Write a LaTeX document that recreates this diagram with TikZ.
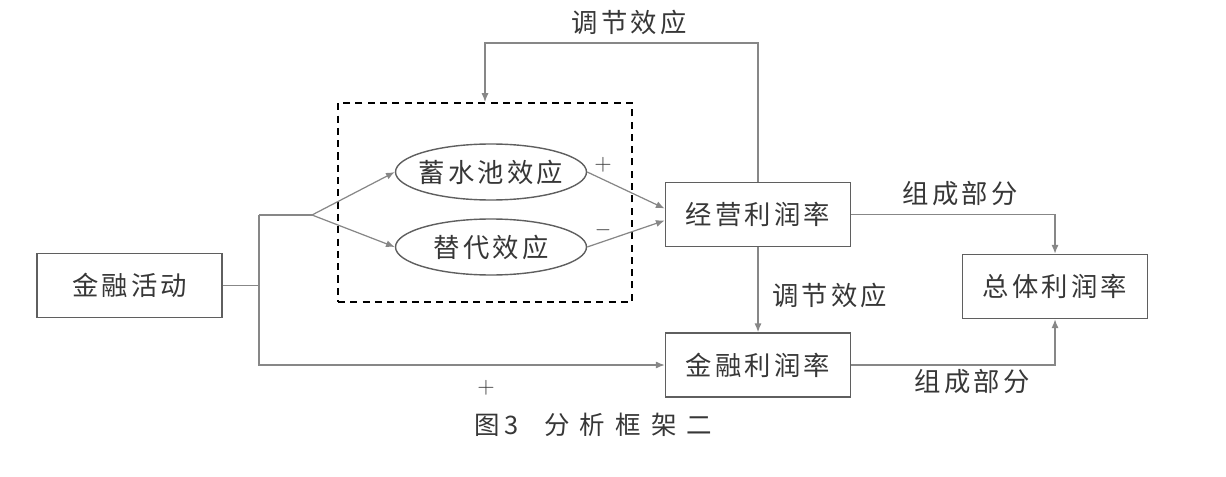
\documentclass[tikz,border=0pt]{standalone}
\usepackage{fontspec}
\newfontfamily\cjk[LetterSpace=12]{Noto Sans CJK SC}
\newfontfamily\cjkcap{Noto Sans CJK SC}
\definecolor{txtgray}{RGB}{55,55,55}
\definecolor{boxgray}{RGB}{95,95,95}
\definecolor{lngray}{RGB}{135,135,135}
\usetikzlibrary{arrows.meta,positioning,shapes.geometric,calc}

\begin{document}
\begin{tikzpicture}[
  bx/.style={draw=boxgray,line width=0.9pt,minimum width=3.7cm,minimum height=1.28cm,align=center,font=\cjk\fontsize{15}{18}\selectfont,text=txtgray},
  ov/.style={draw=boxgray,ellipse,line width=0.8pt,inner xsep=-0.15cm,inner ysep=0pt,minimum width=3.82cm,minimum height=1.12cm,font=\cjk\fontsize{15}{18}\selectfont,text=txtgray},
  grpbox/.style={draw=black,line width=1.1pt,dash pattern=on 4pt off 3pt,minimum width=5.88cm,minimum height=3.98cm},
  lb/.style={font=\cjk\fontsize{15}{18}\selectfont,text=txtgray},
  sg/.style={font=\fontsize{13}{15}\selectfont,text=txtgray},
  ln/.style={draw=lngray,line width=0.7pt},
  ar/.style={ln,-{Latex[length=5pt,width=4pt]}}]
  \useasboundingbox (0,0) rectangle (24.52,9.52);
  % boxes
  \node[bx] (act) at (2.59,3.81) {金融活动};
  \node[bx] (op) at (15.16,5.23) {经营利润率};
  \node[bx] (fin) at (15.16,2.22) {金融利润率};
  \node[bx] (tot) at (21.10,3.79) {总体利润率};
  \node[grpbox] (grp) at (9.70,5.47) {};
  \node[ov] (res) at (9.82,6.08) {蓄水池效应};
  \node[ov] (sub) at (9.82,4.58) {替代效应};
  \coordinate (trunk) at (5.18,5.22);
  \coordinate (fork) at (6.24,5.22);
  \coordinate (fbtop) at (9.70,8.66);
  % connectors
  \draw[ln] (act.east) -- (act.east -| trunk);
  \draw[ln] (trunk) -- (fork);
  \draw[ar] (fork) -- (res.west);
  \draw[ar] (fork) -- (sub.west);
  \draw[ar] (trunk) |- (fin.west);
  \draw[ar] (res.east) -- ([yshift=0.12cm]op.west);
  \draw[ar] (sub.east) -- ([yshift=-0.12cm]op.west);
  \draw[ar] (op.north) |- (fbtop) -- (grp.north);
  \draw[ar] (op.south) -- (fin.north);
  \draw[ar] (op.east) -| (tot.north);
  \draw[ar] (fin.east) -| (tot.south);
  % labels
  \node[lb] (fbl) at (12.58,9.08) {调节效应};
  \node[lb,anchor=west] (mdl) at (15.32,3.62) {调节效应};
  \node[lb] (cp1) at (19.20,5.64) {组成部分};
  \node[lb] (cp2) at (19.44,1.88) {组成部分};
  \node[sg] (pl1) at (12.06,6.22) {+};
  \node[sg] (mi) at (12.06,4.92) {$-$};
  \node[sg] (pl2) at (9.72,1.76) {+};
  \node[lb,font=\cjkcap\fontsize{14.5}{16}\selectfont] (cap) at (11.87,1.02) {图\,3\hspace{1em}分\hspace{0.4em}析\hspace{0.4em}框\hspace{0.4em}架\hspace{0.4em}二};
\end{tikzpicture}
\end{document}
